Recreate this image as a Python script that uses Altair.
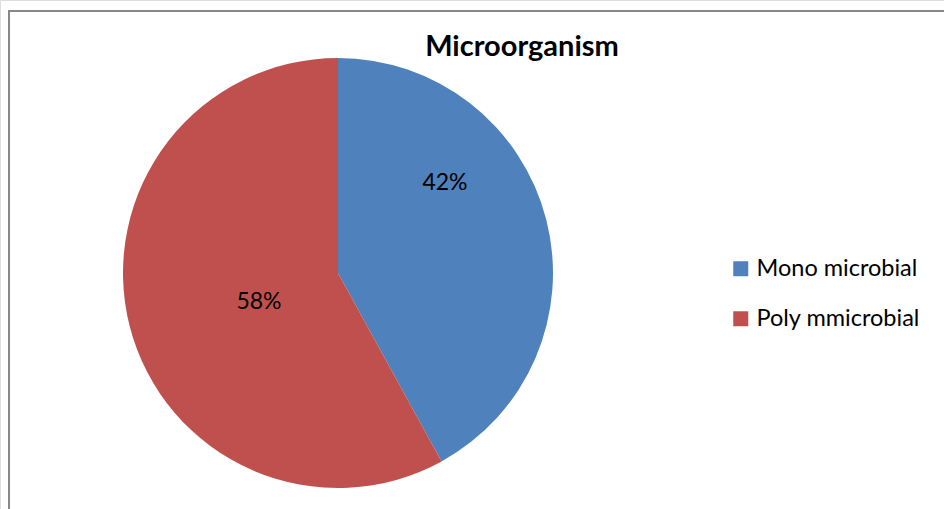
import altair as alt
import pandas as pd

categories = ["Mono microbial", "Poly mmicrobial"]
values = [42, 58]
labels = ["42%", "58%"]
colors = ["#4F81BD", "#C0504D"]
title_text = "Microorganism"

df = pd.DataFrame({"category": categories, "value": values, "label": labels,
                   "order": list(range(len(categories)))})

FONT = "Lato"

frame = alt.Chart(pd.DataFrame({"a": [0]})).mark_rect(
    fill="white", stroke="#888888", strokeWidth=2
).encode(x=alt.value(9), x2=alt.value(1000), y=alt.value(11), y2=alt.value(700))

pie = alt.Chart(df).mark_arc(radius=215, strokeWidth=0).encode(
    theta=alt.Theta("value:Q", stack=True),
    order=alt.Order("order:Q"),
    color=alt.Color(
        "category:N",
        scale=alt.Scale(domain=categories, range=colors),
        legend=alt.Legend(
            title=None, orient="none", legendX=729, legendY=257,
            symbolType="square", symbolSize=225, symbolStrokeWidth=0,
            labelFontSize=23.5, labelFont=FONT, labelColor="#000000",
            labelLimit=400,
            rowPadding=25, labelOffset=4, symbolOffset=0, padding=0,
        ),
    ),
    x=alt.value(338),
    y=alt.value(273),
)

lab1 = alt.Chart(df).transform_filter(alt.datum.category == categories[0]).mark_text(
    fontSize=23, font=FONT, color="#000000"
).encode(text="label:N", x=alt.value(445), y=alt.value(183))
lab2 = alt.Chart(df).transform_filter(alt.datum.category == categories[1]).mark_text(
    fontSize=23, font=FONT, color="#000000"
).encode(text="label:N", x=alt.value(259), y=alt.value(302))

title = alt.Chart(pd.DataFrame({"t": [title_text]})).mark_text(
    fontSize=29, font=FONT, fontWeight="bold", color="#000000"
).encode(text="t:N", x=alt.value(522), y=alt.value(47))

chart = alt.layer(frame, pie, lab1, lab2, title).properties(
    width=944, height=509, padding=0, autosize=alt.AutoSizeParams(type="none")
).configure_view(stroke=None).configure(background="white")

chart.save("out.html", embed_options={"renderer": "svg", "actions": False})
